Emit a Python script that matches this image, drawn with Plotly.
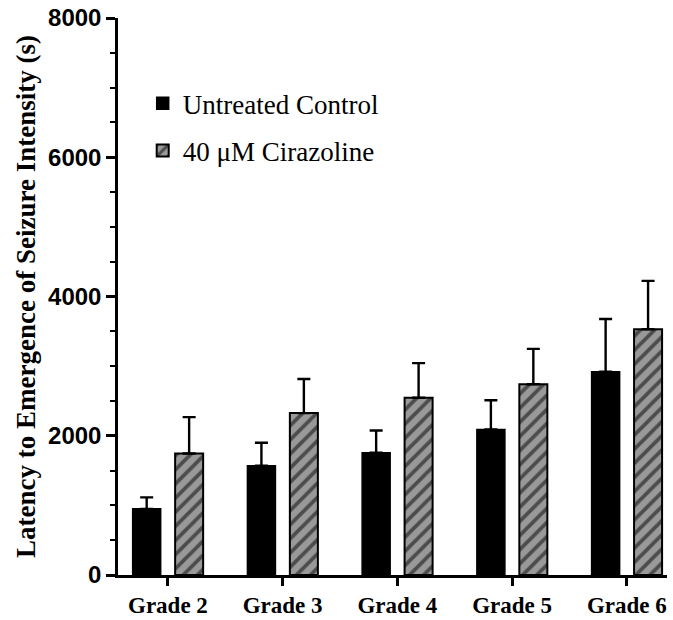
import plotly.graph_objects as go

grades = ["Grade 2", "Grade 3", "Grade 4", "Grade 5", "Grade 6"]
control = [950, 1570, 1755, 2090, 2920]
control_err = [165, 330, 320, 420, 757]
cirazoline = [1745, 2325, 2545, 2740, 3530]
cirazoline_err = [522, 490, 498, 508, 694]
y_ticks = [0, 2000, 4000, 6000, 8000]

fig = go.Figure()
fig.add_trace(go.Bar(
    x=grades, y=control, name="Untreated Control", legendgroup="a",
    marker=dict(color="black", line=dict(color="black", width=1.5)),
    error_y=dict(type="data", array=control_err, arrayminus=[0]*5, symmetric=False,
                 color="black", thickness=2.4, width=6.5),
))
fig.add_trace(go.Bar(
    x=grades, y=cirazoline, name="40 \u03bcM Cirazoline", legendgroup="b",
    marker=dict(color="#999999", line=dict(color="black", width=2),
                pattern=dict(shape="/", fgcolor="black", bgcolor="#999999",
                             size=10, solidity=0.38)),
    error_y=dict(type="data", array=cirazoline_err, arrayminus=[0]*5, symmetric=False,
                 color="black", thickness=2.4, width=6.5),
))

fig.update_layout(
    width=673, height=620,
    margin=dict(l=118, r=6, t=18, b=45),
    paper_bgcolor="white", plot_bgcolor="white",
    barmode="group", bargap=0.26, bargroupgap=0.34,
    showlegend=True,
    legend=dict(x=0.045, y=0.89, xanchor="left", yanchor="top",
                font=dict(family="Liberation Serif", size=27, color="black"),
                tracegroupgap=9, bgcolor="rgba(0,0,0,0)", itemwidth=30),
    xaxis=dict(range=[-0.435, 4.35], showline=True, linecolor="black", linewidth=2.5,
               ticks="outside", ticklen=8, tickwidth=2.5, tickcolor="black",
               tickfont=dict(family="Liberation Serif", size=23, color="black", weight="bold"),
               showgrid=False, automargin=False),
    yaxis=dict(range=[0, 8000], tickvals=y_ticks, showline=True, linecolor="black", linewidth=2.5,
               ticks="outside", ticklen=9, tickwidth=2.5, tickcolor="black",
               tickfont=dict(family="Liberation Sans", size=24, color="black", weight="bold"),
               minor=dict(dtick=500, ticks="outside", ticklen=5, tickwidth=2, tickcolor="black"),
               showgrid=False, zeroline=False, automargin=False,
               title=dict(text="Latency to Emergence of Seizure Intensity (s)",
                          font=dict(family="Liberation Serif", size=27, color="black", weight="bold"),
                          standoff=5)),
)
fig.write_html("out.html", config={"displayModeBar": False},
               post_script="document.body.style.margin='0px';")
